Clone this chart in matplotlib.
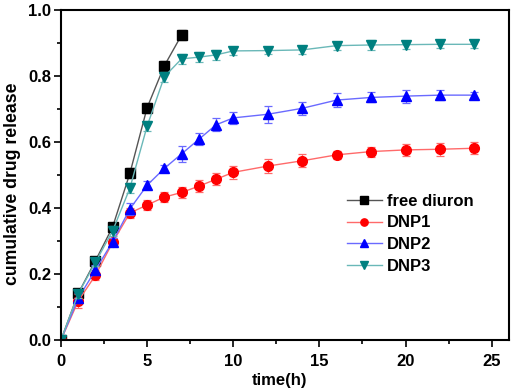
import matplotlib.pyplot as plt
from matplotlib.ticker import MultipleLocator

plt.rcParams['font.family'] = ['Liberation Sans', 'DejaVu Sans']
plt.rcParams['font.weight'] = 'bold'

# release data
t_free = [0, 1, 2, 3, 4, 5, 6, 7]
free = [0, 0.141, 0.240, 0.343, 0.505, 0.704, 0.831, 0.924]
free_err = [0, 0.012, 0.012, 0.012, 0.015, 0.015, 0.015, 0.016]

t = [0, 1, 2, 3, 4, 5, 6, 7, 8, 9, 10, 12, 14, 16, 18, 20, 22, 24]
dnp1 = [0, 0.118, 0.196, 0.296, 0.385, 0.409, 0.433, 0.447, 0.466, 0.487,
        0.508, 0.527, 0.543, 0.561, 0.571, 0.576, 0.578, 0.581]
dnp1_err = [0, 0.02, 0.015, 0.012, 0.015, 0.015, 0.015, 0.018, 0.018, 0.018,
            0.02, 0.022, 0.02, 0.012, 0.015, 0.018, 0.02, 0.018]
dnp2 = [0, 0.126, 0.212, 0.298, 0.397, 0.469, 0.52, 0.564, 0.608, 0.652,
        0.673, 0.684, 0.702, 0.727, 0.735, 0.739, 0.742, 0.742]
dnp2_err = [0, 0.015, 0.015, 0.012, 0.018, 0.012, 0.01, 0.025, 0.018, 0.02,
            0.018, 0.025, 0.02, 0.02, 0.015, 0.02, 0.015, 0.01]
dnp3 = [0, 0.14, 0.235, 0.331, 0.46, 0.648, 0.798, 0.852, 0.857, 0.864,
        0.876, 0.877, 0.879, 0.892, 0.894, 0.895, 0.896, 0.896]
dnp3_err = [0, 0.012, 0.012, 0.015, 0.015, 0.015, 0.015, 0.015, 0.015, 0.015,
            0.012, 0.01, 0.012, 0.012, 0.015, 0.012, 0.01, 0.01]

fig = plt.figure(figsize=(5.23, 3.92), dpi=100)
ax = fig.add_axes([0.1166, 0.1327, 0.8564, 0.8418])

# (x, y, err, label, marker colour, line colour, marker)
series = [
    (t_free, free, free_err, 'free diuron', 'black', '#555555', 's'),
    (t, dnp1, dnp1_err, 'DNP1', 'red', '#ff6a6a', 'o'),
    (t, dnp2, dnp2_err, 'DNP2', 'blue', '#6a6aff', '^'),
    (t, dnp3, dnp3_err, 'DNP3', '#008080', '#6ab8b8', 'v'),
]
for x, y, e, lab, c, lc, m in series:
    ax.errorbar(x, y, yerr=e, fmt='none', ecolor=lc, elinewidth=0.9,
                capsize=3, capthick=0.9)
    ax.plot(x, y, color=lc, lw=1.0, marker=m, markersize=7,
            mfc=c, mec=c, label=lab)

ax.set_xlim(0, 26)
ax.set_ylim(0, 1.0)
ax.xaxis.set_major_locator(MultipleLocator(5))
ax.xaxis.set_minor_locator(MultipleLocator(2.5))
ax.yaxis.set_major_locator(MultipleLocator(0.2))
ax.yaxis.set_minor_locator(MultipleLocator(0.1))
ax.tick_params(which='major', length=5, width=1.2, labelsize=12)
ax.tick_params(axis='x', which='major', pad=5)
ax.tick_params(axis='y', which='major', pad=2)
ax.tick_params(which='minor', length=3, width=1.2)
for s in ax.spines.values():
    s.set_linewidth(1.5)

ax.set_xlabel('time(h)', fontsize=12, fontweight='bold', labelpad=3, x=0.487)
ax.set_ylabel('cumulative drug release', fontsize=12.7, fontweight='bold',
              labelpad=5, y=0.473)

leg = ax.legend(loc='upper left', bbox_to_anchor=(0.623, 0.464),
                borderaxespad=0, frameon=False,
                prop={'weight': 'bold', 'size': 12}, handlelength=2.1,
                labelspacing=0.41, handletextpad=0.3, markerscale=0.75)

fig.savefig('out.png')
